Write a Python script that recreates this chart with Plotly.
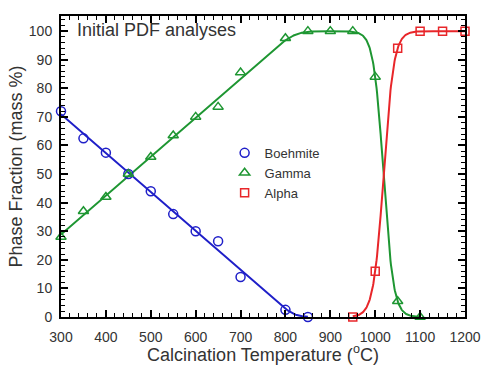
import numpy as np
import plotly.graph_objects as go

# ---- data ----
boe_T = [300, 350, 400, 450, 500, 550, 600, 650, 700, 800, 850]
boe_v = [72, 62.5, 57.5, 50, 44, 36, 30, 26.5, 14, 2.5, 0]

gam_T = [300, 350, 400, 450, 500, 550, 600, 650, 700, 800, 850, 900, 950, 1000, 1050, 1100]
gam_v = [28, 37, 42, 50, 56, 63.5, 70, 73.5, 85.5, 97.5, 100, 100, 100, 84, 5.5, 0]

alp_T = [950, 1000, 1050, 1100, 1150, 1200]
alp_v = [0, 16, 94, 100, 100, 100]

x_ticks = [300, 400, 500, 600, 700, 800, 900, 1000, 1100, 1200]
y_ticks = [0, 10, 20, 30, 40, 50, 60, 70, 80, 90, 100]

BLUE = "#1f1fc8"
GREEN = "#1e9632"
RED = "#e8262a"
TXT = "#333333"
FONT = "Liberation Sans, Arial"

# ---- fitted guide curves derived from the data ----
def softmax0(a, k=2.0):
    return k * np.log1p(np.exp(a / k))

def softmin(a, b, k=2.0):
    return -k * np.log(np.exp(-a / k) + np.exp(-b / k))

def logit(p):
    return np.log(p / (100 - p))

T = np.linspace(300, 1200, 901)
bT = np.array(boe_T); bv = np.array(boe_v)
m = bT <= 800
pb = np.polyfit(bT[m], bv[m], 1)
T_b = T[T <= 850]
boe_fit = softmax0(np.polyval(pb, T_b), 1.5)

gT = np.array(gam_T); gv = np.array(gam_v)
mg = gT <= 800
pg = np.polyfit(gT[mg], gv[mg], 1)
rise = softmin(np.polyval(pg, T), 100.0, 2.0)
w_g = 50 / (logit(84) - logit(5.5))
T0_g = 1000 + logit(84) * w_g
decay = 1 / (1 + np.exp((T - T0_g) / w_g))
T_g = T[T <= 1100]
gam_fit = (rise * decay)[T <= 1100]

w_a = 50 / (logit(94) - logit(16))
T0_a = 1000 - logit(16) * w_a
T_a = T[T >= 950]
alp_fit = 100 / (1 + np.exp(-(T_a - T0_a) / w_a))

fig = go.Figure()
fig.add_trace(go.Scatter(x=T_b, y=boe_fit, mode="lines", line=dict(color=BLUE, width=2),
                         showlegend=False, hoverinfo="skip"))
fig.add_trace(go.Scatter(x=T_g, y=gam_fit, mode="lines", line=dict(color=GREEN, width=2),
                         showlegend=False, hoverinfo="skip"))
fig.add_trace(go.Scatter(x=T_a, y=alp_fit, mode="lines", line=dict(color=RED, width=2),
                         showlegend=False, hoverinfo="skip"))

fig.add_trace(go.Scatter(x=boe_T, y=boe_v, mode="markers", name="Boehmite",
                         marker=dict(symbol="circle-open", size=9, color=BLUE, line=dict(width=1.5)),
                         cliponaxis=False))
fig.add_trace(go.Scatter(x=gam_T, y=gam_v, mode="markers", name="Gamma",
                         marker=dict(symbol="triangle-up-open", size=9, color=GREEN, line=dict(width=1.5)),
                         cliponaxis=False))
fig.add_trace(go.Scatter(x=alp_T, y=alp_v, mode="markers", name="Alpha",
                         marker=dict(symbol="square-open", size=8, color=RED, line=dict(width=1.5)),
                         cliponaxis=False))

axis_common = dict(
    showline=True, linecolor="black", linewidth=2, mirror="ticks",
    ticks="inside", ticklen=7, tickwidth=1.5, tickcolor="black",
    showgrid=False, zeroline=False, automargin=False,
    tickfont=dict(family=FONT, size=14, color=TXT),
)

fig.update_xaxes(range=[300, 1200], tickvals=x_ticks, ticktext=[str(v) for v in x_ticks],
                 ticklabelstandoff=6,
                 minor=dict(dtick=20, ticks="inside", ticklen=4, tickwidth=1, tickcolor="black"),
                 title=dict(text="Calcination Temperature (<sup>o</sup>C)", standoff=6,
                            font=dict(family=FONT, size=18, color=TXT)),
                 **axis_common)
fig.update_yaxes(range=[0, 105.3], tickvals=y_ticks, ticktext=[str(v) for v in y_ticks],
                 ticklabelstandoff=4,
                 minor=dict(dtick=2, ticks="inside", ticklen=4, tickwidth=1, tickcolor="black"),
                 title=dict(text="Phase Fraction (mass %)", standoff=2,
                            font=dict(family=FONT, size=18, color=TXT)),
                 **axis_common)

fig.add_annotation(x=0.035, y=0.955, xref="paper", yref="paper", xanchor="left", yanchor="middle",
                   text="Initial PDF analyses", showarrow=False,
                   font=dict(family=FONT, size=18, color=TXT))

fig.update_layout(
    width=484, height=365,
    margin=dict(l=61, r=19, t=16, b=48),
    plot_bgcolor="white", paper_bgcolor="white",
    legend=dict(x=0.405, y=0.595, xanchor="left", yanchor="top", bgcolor="rgba(0,0,0,0)",
                font=dict(family=FONT, size=13, color=TXT),
                tracegroupgap=0, itemwidth=30),
)

fig.write_html("out.html")
